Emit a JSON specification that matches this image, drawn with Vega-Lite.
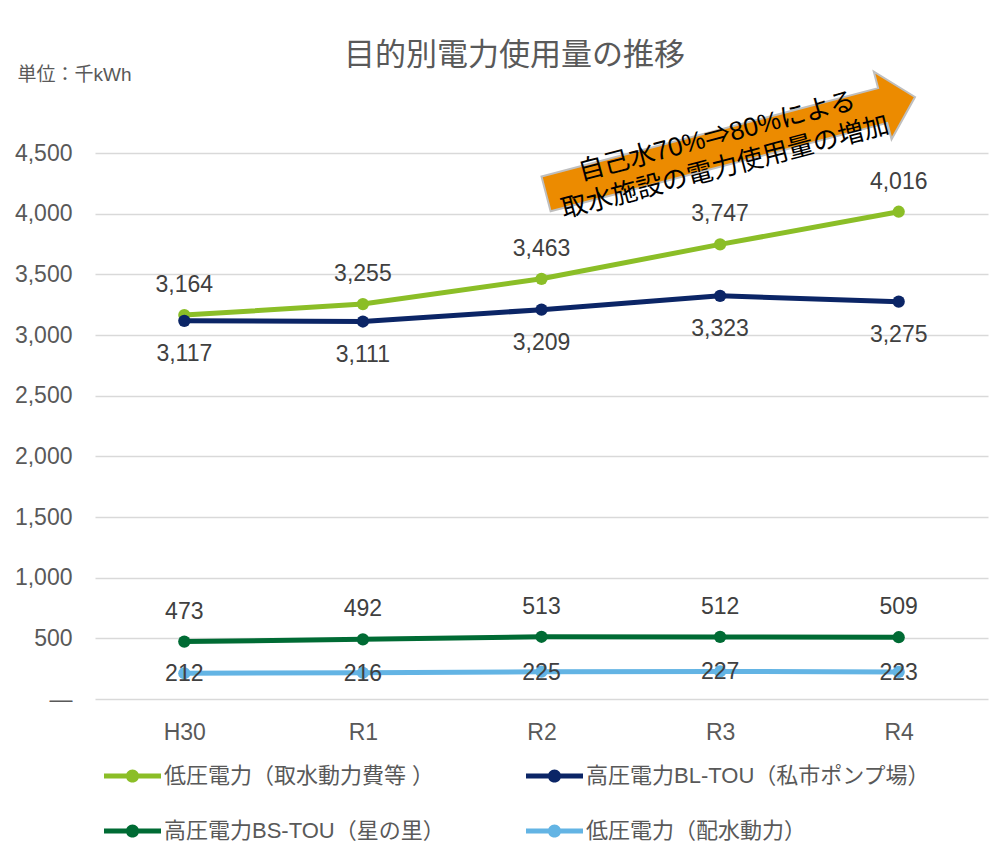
{
  "$schema": "https://vega.github.io/schema/vega-lite/v6.json",
  "width": 893,
  "height": 546,
  "autosize": {"type": "none"},
  "padding": {"left": 95, "top": 153, "right": 16, "bottom": 154},
  "background": "white",
  "title": {
    "text": "目的別電力使用量の推移",
    "fontSize": 31,
    "fontWeight": "normal",
    "color": "#595959",
    "anchor": "middle",
    "frame": "group",
    "dx": -27,
    "dy": 7,
    "offset": 0
  },
  "config": {
    "font": "Liberation Sans, Noto Sans CJK JP, sans-serif",
    "view": {"stroke": null}
  },
  "datasets": {
    "usage": [
      {"year": "H30", "series": "低圧電力（取水動力費等 ）", "value": 3164},
      {"year": "R1", "series": "低圧電力（取水動力費等 ）", "value": 3255},
      {"year": "R2", "series": "低圧電力（取水動力費等 ）", "value": 3463},
      {"year": "R3", "series": "低圧電力（取水動力費等 ）", "value": 3747},
      {"year": "R4", "series": "低圧電力（取水動力費等 ）", "value": 4016},
      {"year": "H30", "series": "高圧電力BL-TOU（私市ポンプ場）", "value": 3117},
      {"year": "R1", "series": "高圧電力BL-TOU（私市ポンプ場）", "value": 3111},
      {"year": "R2", "series": "高圧電力BL-TOU（私市ポンプ場）", "value": 3209},
      {"year": "R3", "series": "高圧電力BL-TOU（私市ポンプ場）", "value": 3323},
      {"year": "R4", "series": "高圧電力BL-TOU（私市ポンプ場）", "value": 3275},
      {"year": "H30", "series": "高圧電力BS-TOU（星の里）", "value": 473},
      {"year": "R1", "series": "高圧電力BS-TOU（星の里）", "value": 492},
      {"year": "R2", "series": "高圧電力BS-TOU（星の里）", "value": 513},
      {"year": "R3", "series": "高圧電力BS-TOU（星の里）", "value": 512},
      {"year": "R4", "series": "高圧電力BS-TOU（星の里）", "value": 509},
      {"year": "H30", "series": "低圧電力（配水動力）", "value": 212},
      {"year": "R1", "series": "低圧電力（配水動力）", "value": 216},
      {"year": "R2", "series": "低圧電力（配水動力）", "value": 225},
      {"year": "R3", "series": "低圧電力（配水動力）", "value": 227},
      {"year": "R4", "series": "低圧電力（配水動力）", "value": 223}
    ],
    "note": [
      {"year": "R3", "value": 4540, "text": "自己水70%⇒80%による\n取水施設の電力使用量の増加"}
    ]
  },
  "data": {"name": "usage"},
  "encoding": {
    "x": {
      "field": "year",
      "type": "ordinal",
      "sort": ["H30", "R1", "R2", "R3", "R4"],
      "scale": {"type": "point", "padding": 0.5},
      "axis": {
        "title": null,
        "domain": false,
        "ticks": false,
        "grid": false,
        "labelAngle": 0,
        "labelFontSize": 23,
        "labelColor": "#595959",
        "labelPadding": 22
      }
    },
    "y": {
      "field": "value",
      "type": "quantitative",
      "scale": {"domain": [0, 4500], "nice": false, "zero": true},
      "axis": {
        "title": "単位：千kWh",
        "titleAngle": 0,
        "titleAlign": "left",
        "titleBaseline": "middle",
        "titleX": -78,
        "titleY": -79,
        "titleFontSize": 19,
        "titleFontWeight": "normal",
        "titleColor": "#595959",
        "values": [0, 500, 1000, 1500, 2000, 2500, 3000, 3500, 4000, 4500],
        "labelExpr": "datum.value === 0 ? '—' : format(datum.value, ',')",
        "domain": false,
        "ticks": false,
        "grid": true,
        "gridColor": "#D9D9D9",
        "gridWidth": 1.5,
        "labelFontSize": 23,
        "labelColor": "#595959",
        "labelPadding": 23
      }
    },
    "color": {
      "field": "series",
      "type": "nominal",
      "scale": {
        "domain": ["低圧電力（取水動力費等 ）", "高圧電力BL-TOU（私市ポンプ場）", "高圧電力BS-TOU（星の里）", "低圧電力（配水動力）"],
        "range": ["#8BBE27", "#0B2566", "#006B34", "#63B4E4"]
      },
      "legend": {
        "title": null,
        "orient": "none",
        "legendX": 17.5,
        "legendY": 603,
        "columns": 2,
        "direction": "horizontal",
        "columnPadding": 80,
        "rowPadding": 24,
        "padding": 0,
        "symbolSize": 1600,
        "symbolType": "M -1.425 -0.125 L 1.425 -0.125 L 1.425 0.125 L -1.425 0.125 Z M -0.33 0 A 0.33 0.33 0 1 1 0.33 0 A 0.33 0.33 0 1 1 -0.33 0 Z",
        "symbolStrokeWidth": 0,
        "symbolOpacity": 1,
        "labelFontSize": 22,
        "labelColor": "#595959",
        "labelOffset": 11.5,
        "labelLimit": 400,
        "encode": {
          "symbols": {
            "update": {
              "fill": {"scale": "color", "field": "value"},
              "stroke": {"value": "transparent"},
              "strokeWidth": {"value": 0},
              "opacity": {"value": 1}
            }
          }
        }
      }
    }
  },
  "layer": [
    {
      "mark": {"type": "line", "strokeWidth": 5, "clip": false}
    },
    {
      "mark": {"type": "point", "filled": true, "size": 150, "opacity": 1, "shape": "circle"}
    },
    {
      "transform": [{"filter": "datum.series === '低圧電力（取水動力費等 ）' || datum.series === '高圧電力BS-TOU（星の里）'"}],
      "mark": {"type": "text", "fontSize": 23, "dy": -30, "baseline": "middle", "align": "center"},
      "encoding": {
        "text": {"field": "value", "type": "quantitative", "format": ","},
        "color": {"value": "#404040"}
      }
    },
    {
      "transform": [{"filter": "datum.series === '高圧電力BL-TOU（私市ポンプ場）'"}],
      "mark": {"type": "text", "fontSize": 23, "dy": 33, "baseline": "middle", "align": "center"},
      "encoding": {
        "text": {"field": "value", "type": "quantitative", "format": ","},
        "color": {"value": "#404040"}
      }
    },
    {
      "transform": [{"filter": "datum.series === '低圧電力（配水動力）'"}],
      "mark": {"type": "text", "fontSize": 23, "dy": 1, "baseline": "middle", "align": "center"},
      "encoding": {
        "text": {"field": "value", "type": "quantitative", "format": ","},
        "color": {"value": "#404040"}
      }
    },
    {
      "data": {"name": "note"},
      "mark": {
        "type": "point",
        "shape": "M -0.942 -0.094 L 0.880 -0.094 L 0.880 -0.183 L 1.055 0 L 0.880 0.183 L 0.880 0.094 L -0.942 0.094 Z",
        "size": 145924,
        "angle": 345.3,
        "filled": true,
        "opacity": 1,
        "stroke": "#BFBFBF",
        "strokeWidth": 2,
        "clip": false
      },
      "encoding": {
        "color": {"value": "#EC8B00"}
      }
    },
    {
      "data": {"name": "note"},
      "mark": {
        "type": "text",
        "fontSize": 26,
        "lineBreak": "\n",
        "lineHeight": 32,
        "angle": 345.3,
        "align": "center",
        "baseline": "middle",
        "dy": -12,
        "clip": false
      },
      "encoding": {
        "text": {"field": "text", "type": "nominal"},
        "color": {"value": "#000000"}
      }
    }
  ]
}
